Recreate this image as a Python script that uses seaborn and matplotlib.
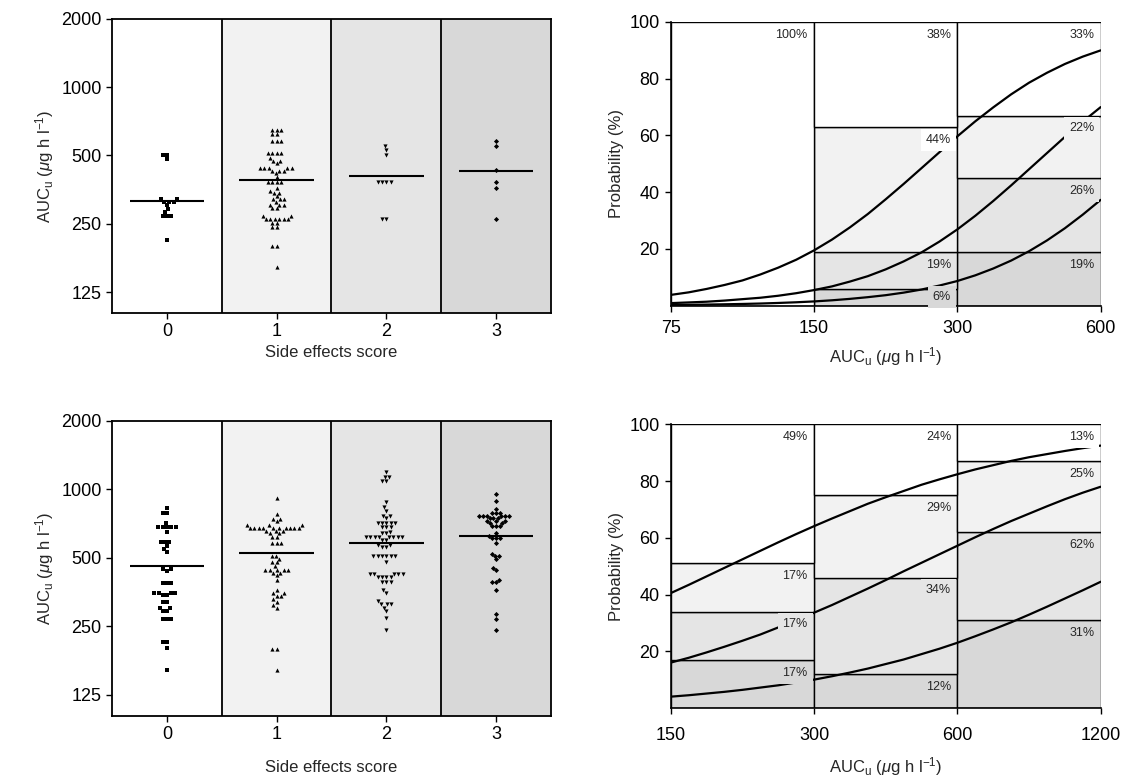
import numpy as np
import pandas as pd
import matplotlib
matplotlib.use("Agg")
import matplotlib.pyplot as plt
import seaborn as sns

sns.set_theme(style="ticks")
plt.rcParams["font.family"] = ["Liberation Sans", "DejaVu Sans"]
plt.rcParams["mathtext.fontset"] = "custom"
plt.rcParams["mathtext.rm"] = "Liberation Sans"
plt.rcParams["mathtext.it"] = "Liberation Sans:italic"

# -----------------------------
# Data: left panels (AUC by side effects score)
# -----------------------------
scores = [0, 1, 2, 3]
markers = ["s", "^", "v", "D"]
shades = ["#ffffff", "#f2f2f2", "#e5e5e5", "#d8d8d8"]

top_auc_0 = [503, 503, 482, 322, 322, 313, 313, 313, 303, 291, 281, 270, 270, 270, 211]
top_auc_1 = [649, 649, 649, 620, 620, 582, 582, 582, 512, 512, 512, 512, 486, 475, 475,
             462, 439, 439, 439, 439, 439, 429, 429, 429, 418, 401, 381, 381, 381, 381,
             361, 349, 341, 341, 330, 321, 321, 321, 313, 303, 303, 303, 293, 293, 271,
             271, 262, 262, 262, 262, 262, 262, 252, 252, 241, 241, 200, 200, 161]
top_auc_2 = [553, 531, 503, 381, 381, 381, 381, 262, 262]
top_auc_3 = [582, 551, 432, 381, 361, 262]
top_medians = [315, 390, 404, 428]

bot_auc_0 = [825, 789, 789, 708, 680, 680, 680, 680, 680, 651, 584, 584, 584, 563, 546,
             528, 445, 445, 438, 389, 389, 389, 350, 350, 350, 350, 342, 342, 320, 320,
             301, 301, 291, 291, 270, 270, 270, 213, 213, 201, 161]
bot_auc_1 = [919, 779, 740, 740, 725, 696, 696, 696, 678, 678, 678, 678, 678, 678, 678,
             678, 678, 678, 658, 658, 658, 640, 640, 619, 619, 578, 578, 578, 510, 510,
             496, 480, 480, 459, 441, 441, 441, 441, 441, 429, 429, 419, 401, 360, 350,
             350, 340, 340, 329, 320, 309, 301, 199, 199, 160]
bot_auc_2 = [1188, 1137, 1137, 1092, 1092, 876, 833, 802, 765, 765, 745, 713, 713, 713,
             713, 713, 680, 680, 680, 651, 640, 640, 618, 618, 618, 618, 618, 618, 618,
             618, 598, 598, 568, 568, 555, 555, 508, 508, 508, 508, 508, 508, 480, 423,
             423, 423, 423, 423, 412, 412, 412, 412, 392, 392, 392, 360, 350, 322, 312,
             312, 312, 302, 291, 272, 241]
bot_auc_3 = [954, 888, 819, 789, 789, 789, 763, 763, 763, 763, 763, 763, 745, 745, 745,
             725, 725, 725, 708, 708, 689, 689, 689, 640, 623, 608, 608, 608, 578, 522,
             510, 510, 492, 452, 441, 401, 392, 392, 360, 282, 270, 240]
bot_medians = [462, 524, 578, 625]

auc_ticks = [125, 250, 500, 1000, 2000]
auc_tick_labels = ["125", "250", "500", "1000", "2000"]

# -----------------------------
# Data: right panels (stacked probabilities + fitted curves)
# -----------------------------
top_edges = [75, 150, 300, 600]
top_seg = {3: [0, 6, 19], 2: [0, 13, 26], 1: [0, 44, 22], 0: [100, 37, 33]}
top_lab = {3: ["", "6%", "19%"], 2: ["", "19%", "26%"],
           1: ["", "44%", "22%"], 0: ["100%", "38%", "33%"]}
top_curve_x = [75, 81.8, 89.2, 97.3, 106.1, 115.7, 126.1, 137.6, 150, 163.6, 178.4,
               194.5, 212.1, 231.3, 252.3, 275.1, 300, 327.2, 356.8, 389.1, 424.3,
               462.7, 504.6, 550.2, 600]
top_p1 = [3.8, 4.7, 5.9, 7.3, 8.9, 11.0, 13.4, 16.2, 19.5, 23.3, 27.6, 32.3, 37.5,
          42.9, 48.5, 54.1, 59.7, 65.0, 69.9, 74.5, 78.6, 82.1, 85.2, 87.8, 90.0]
top_p2 = [0.9, 1.15, 1.4, 1.8, 2.3, 2.8, 3.5, 4.4, 5.5, 6.8, 8.5, 10.4, 12.8, 15.6,
          18.8, 22.6, 26.9, 31.7, 36.9, 42.4, 48.1, 53.8, 59.5, 64.9, 70.0]
top_p3 = [0.25, 0.31, 0.39, 0.49, 0.61, 0.76, 0.96, 1.2, 1.5, 1.9, 2.4, 3.0, 3.7, 4.6,
          5.7, 7.1, 8.7, 10.7, 13.1, 15.9, 19.2, 23.0, 27.3, 32.1, 37.3]

bot_edges = [150, 300, 600, 1200]
bot_seg = {3: [17, 12, 31], 2: [17, 34, 31], 1: [17, 29, 25], 0: [49, 25, 13]}
bot_lab = {3: ["17%", "12%", "31%"], 2: ["17%", "34%", "62%"],
           1: ["17%", "29%", "25%"], 0: ["49%", "24%", "13%"]}
bot_curve_x = [150, 163.6, 178.4, 194.5, 212.1, 231.3, 252.3, 275.1, 300, 327.2, 356.8,
               389.1, 424.3, 462.7, 504.6, 550.2, 600, 654.3, 713.5, 778.1, 848.5,
               925.3, 1009.1, 1100.4, 1200]
bot_p1 = [40.5, 43.4, 46.4, 49.4, 52.4, 55.4, 58.4, 61.3, 64.1, 66.8, 69.4, 72.0, 74.3,
          76.5, 78.7, 80.6, 82.4, 84.1, 85.6, 87.1, 88.4, 89.5, 90.6, 91.6, 92.5]
bot_p2 = [16.0, 17.7, 19.6, 21.6, 23.7, 25.9, 28.4, 30.9, 33.6, 36.3, 39.2, 42.1, 45.1,
          48.2, 51.2, 54.2, 57.2, 60.2, 63.1, 65.9, 68.5, 71.1, 73.6, 75.9, 78.0]
bot_p3 = [4.0, 4.5, 5.1, 5.7, 6.4, 7.2, 8.0, 9.0, 10.0, 11.2, 12.5, 13.9, 15.5, 17.1,
          19.0, 20.9, 23.0, 25.3, 27.7, 30.2, 32.9, 35.7, 38.6, 41.5, 44.5]

auc_label = r"AUC$_{\rm u}$ ($\mu$g h l$^{-1}$)"
FS = 12
TS = 13


def swarm_panel(ax, groups, medians, xlabelpad):
    ax.set_yscale("log", base=2)
    ax.set_ylim(101, 2000)
    for i, shade in enumerate(shades):
        ax.axvspan(i - 0.5, i + 0.5, color=shade, zorder=0, lw=0)
        if i < len(shades) - 1:
            ax.axvline(i + 0.5, color="black", lw=1.3, zorder=1)
    for s, vals in zip(scores, groups):
        df = pd.DataFrame({"score": [s] * len(vals), "auc": vals})
        sns.swarmplot(data=df, x="score", y="auc", order=scores, marker=markers[s],
                      color="black", size=3.0 if s != 3 else 2.6, linewidth=0,
                      ax=ax, zorder=3)
    pos = np.arange(len(scores))
    ax.hlines(medians, pos - 0.34, pos + 0.34, color="black", lw=1.5, zorder=4)
    ax.set_xlim(-0.5, 3.5)
    ax.set_yticks(auc_ticks)
    ax.set_yticklabels(auc_tick_labels)
    ax.yaxis.set_minor_locator(matplotlib.ticker.NullLocator())
    ax.set_xlabel("Side effects score", fontsize=FS, labelpad=xlabelpad)
    ax.set_ylabel(auc_label, fontsize=FS)
    ax.tick_params(labelsize=TS, length=4, width=1, colors="black")
    for sp in ax.spines.values():
        sp.set_linewidth(1.3)
        sp.set_color("black")


def prob_panel(ax, edges, seg, lab, cx, curves, xpad, xlabelpad):
    ax.set_xscale("log", base=2)
    lefts = edges[:-1]
    widths = [r - l for l, r in zip(edges[:-1], edges[1:])]
    bottoms = [0] * len(lefts)
    for k in [3, 2, 1, 0]:
        heights = seg[k]
        ax.bar(lefts, heights, width=widths, bottom=bottoms, align="edge",
               color=shades[k], edgecolor="black", lw=1.0, zorder=1)
        for j, (h, b) in enumerate(zip(heights, bottoms)):
            if h > 0 and lab[k][j]:
                top = b + h
                ax.annotate(lab[k][j], xy=(edges[j + 1], top - min(4.5, h / 2)),
                            xytext=(-4.5, 0), textcoords="offset points",
                            ha="right", va="center", fontsize=9, zorder=5,
                            bbox=dict(boxstyle="square,pad=0.4",
                                      fc="white" if lab[k][j] == "44%" else shades[k],
                                      ec="none"))
        bottoms = [b + h for b, h in zip(bottoms, heights)]
    for p in curves:
        sns.lineplot(x=cx, y=p, color="black", lw=1.6, ax=ax, zorder=3)
    ax.set_xlim(edges[0], edges[-1])
    ax.set_ylim(0, 100)
    ax.set_xticks(edges)
    ax.set_xticklabels([str(e) for e in edges])
    ax.xaxis.set_minor_locator(matplotlib.ticker.NullLocator())
    ax.set_yticks([20, 40, 60, 80, 100])
    ax.set_xlabel(auc_label, fontsize=FS, labelpad=xlabelpad)
    ax.set_ylabel("Probability (%)", fontsize=FS)
    ax.tick_params(labelsize=TS, length=4.5, width=1, colors="black")
    ax.tick_params(axis="x", pad=xpad)
    ax.spines["top"].set_visible(False)
    ax.spines["right"].set_visible(False)
    for sp in ("left", "bottom"):
        ax.spines[sp].set_linewidth(1.2)
        ax.spines[sp].set_color("black")


fig = plt.figure(figsize=(11.25, 7.8), dpi=100)
ax1 = fig.add_axes([0.0996, 0.5987, 0.390, 0.377])
ax2 = fig.add_axes([0.5962, 0.6081, 0.3822, 0.3637])
ax3 = fig.add_axes([0.0996, 0.0824, 0.390, 0.378])
ax4 = fig.add_axes([0.5962, 0.0923, 0.3822, 0.3637])

swarm_panel(ax1, [top_auc_0, top_auc_1, top_auc_2, top_auc_3], top_medians, 3)
swarm_panel(ax3, [bot_auc_0, bot_auc_1, bot_auc_2, bot_auc_3], bot_medians, 12)
prob_panel(ax2, top_edges, top_seg, top_lab, top_curve_x, [top_p1, top_p2, top_p3], 6, 6)
prob_panel(ax4, bot_edges, bot_seg, bot_lab, bot_curve_x, [bot_p1, bot_p2, bot_p3], 9, 8)

fig.savefig("out.png", dpi=100)
plt.close(fig)
